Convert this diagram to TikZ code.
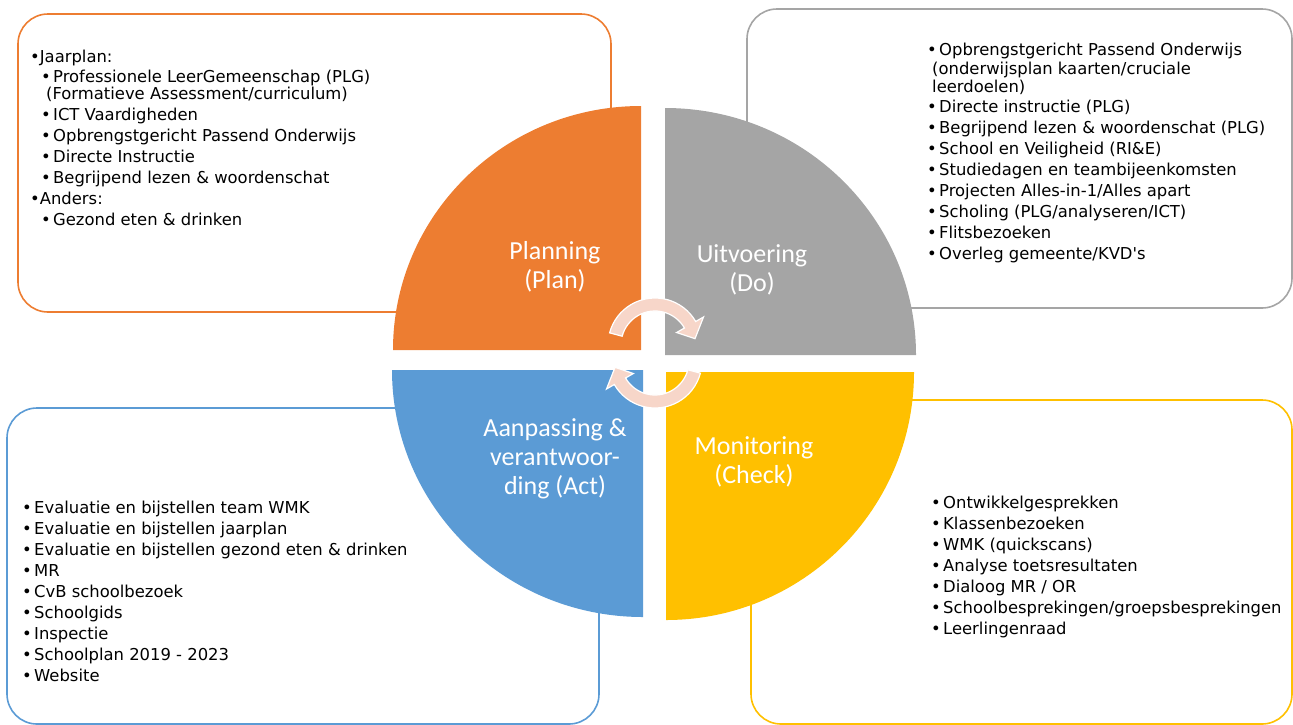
\documentclass[tikz,border=0pt]{standalone}
\usepackage{fontspec}
\newfontfamily\itemfont{DejaVu Sans}
\newfontfamily\labelfont{Carlito}
\definecolor{cOrange}{HTML}{ED7D31}
\definecolor{cGray}{HTML}{A5A5A5}
\definecolor{cBlue}{HTML}{5B9BD5}
\definecolor{cYellow}{HTML}{FFC000}
\definecolor{cArrow}{HTML}{F7D6C9}
\newcommand\mybul{\makebox[12pt][l]{•}}
\begin{document}
\begin{tikzpicture}[x=1pt,y=1pt,yscale=-1,
  box/.style={rounded corners=30pt, line width=1.6pt},
  itm/.style={anchor=base west, inner sep=0pt, font=\itemfont\fontsize{16.4}{19}\selectfont},
  lbl/.style={text=white, align=center, inner sep=0pt, font=\labelfont\fontsize{26}{29}\selectfont},
  arw/.style={fill=cArrow, draw=white, line width=1.2pt, line join=miter}]
\useasboundingbox (0,0) rectangle (1293,724);
% boxes
\draw[box, cOrange] (18,14) rectangle (611,312);
\draw[box, cGray] (747,9) rectangle (1292,308);
\draw[box, cBlue] (7,408) rectangle (599,724);
\draw[box, cYellow] (751,400) rectangle (1292,724);
% quadrants
\fill[cOrange] (641,350) -- (393,350) arc[start angle=180, end angle=270, x radius=248, y radius=244] -- cycle;
\fill[cGray] (665,355) -- (665,108) arc[start angle=270, end angle=360, x radius=251, y radius=247] -- cycle;
\fill[cBlue] (643,370) -- (643,617) arc[start angle=90, end angle=180, x radius=251, y radius=247] -- cycle;
\fill[cYellow] (666,372) -- (914,372) arc[start angle=0, end angle=90, x radius=248, y radius=248] -- cycle;
% cycle arrows
\begin{scope}[shift={(655,345)}]
\filldraw[arw] (195:47) arc[start angle=195, end angle=330, radius=47] -- (330:56) -- (351:40.5) -- (330:25) -- (330:34) arc[start angle=330, end angle=195, radius=34] -- cycle;
\end{scope}
\begin{scope}[shift={(655,361)}]
\filldraw[arw] (15:47) arc[start angle=15, end angle=150, radius=47] -- (150:56) -- (171:40.5) -- (150:25) -- (150:34) arc[start angle=150, end angle=15, radius=34] -- cycle;
\end{scope}
% labels
\node[lbl] (plan) at (555,267) {Planning\\(Plan)};
\node[lbl] (do) at (752,270) {Uitvoering\\(Do)};
\node[lbl] (act) at (555,459) {Aanpassing \&\\verantwoor-\\ding (Act)};
\node[lbl] (check) at (754,462) {Monitoring\\(Check)};
% orange list
\node[itm] (o1) at (30,62) {•Jaarplan:};
\node[itm] (o2) at (41,82) {\mybul Professionele LeerGemeenschap (PLG)};
\node[itm] (o3) at (46,99) {(Formatieve Assessment/curriculum)};
\node[itm] (o4) at (41,120) {\mybul ICT Vaardigheden};
\node[itm] (o5) at (41,141) {\mybul Opbrengstgericht Passend Onderwijs};
\node[itm] (o6) at (41,162) {\mybul Directe Instructie};
\node[itm] (o7) at (41,183) {\mybul Begrijpend lezen \& woordenschat};
\node[itm] (o8) at (30,204) {•Anders:};
\node[itm] (o9) at (41,225) {\mybul Gezond eten \& drinken};
% gray list
\node[itm] (g1) at (927,55) {\mybul Opbrengstgericht Passend Onderwijs};
\node[itm] (g2) at (932,74) {(onderwijsplan kaarten/cruciale};
\node[itm] (g3) at (932,92) {leerdoelen)};
\node[itm] (g4) at (927,112) {\mybul Directe instructie (PLG)};
\node[itm] (g5) at (927,133) {\mybul Begrijpend lezen \& woordenschat (PLG)};
\node[itm] (g6) at (927,154) {\mybul School en Veiligheid (RI\&E)};
\node[itm] (g7) at (927,175) {\mybul Studiedagen en teambijeenkomsten};
\node[itm] (g8) at (927,196) {\mybul Projecten Alles-in-1/Alles apart};
\node[itm] (g9) at (927,217) {\mybul Scholing (PLG/analyseren/ICT)};
\node[itm] (g10) at (927,238) {\mybul Flitsbezoeken};
\node[itm] (g11) at (927,259) {\mybul Overleg gemeente/KVD's};
% blue list
\node[itm] (b1) at (22,513) {\mybul Evaluatie en bijstellen team WMK};
\node[itm] (b2) at (22,534) {\mybul Evaluatie en bijstellen jaarplan};
\node[itm] (b3) at (22,555) {\mybul Evaluatie en bijstellen gezond eten \& drinken};
\node[itm] (b4) at (22,576) {\mybul MR};
\node[itm] (b5) at (22,597) {\mybul CvB schoolbezoek};
\node[itm] (b6) at (22,618) {\mybul Schoolgids};
\node[itm] (b7) at (22,639) {\mybul Inspectie};
\node[itm] (b8) at (22,660) {\mybul Schoolplan 2019 - 2023};
\node[itm] (b9) at (22,681) {\mybul Website};
% yellow list
\node[itm] (y1) at (931,508) {\mybul Ontwikkelgesprekken};
\node[itm] (y2) at (931,529) {\mybul Klassenbezoeken};
\node[itm] (y3) at (931,550) {\mybul WMK (quickscans)};
\node[itm] (y4) at (931,571) {\mybul Analyse toetsresultaten};
\node[itm] (y5) at (931,592) {\mybul Dialoog MR / OR};
\node[itm] (y6) at (931,613) {\mybul Schoolbesprekingen/groepsbesprekingen};
\node[itm] (y7) at (931,634) {\mybul Leerlingenraad};
\end{tikzpicture}
\end{document}
